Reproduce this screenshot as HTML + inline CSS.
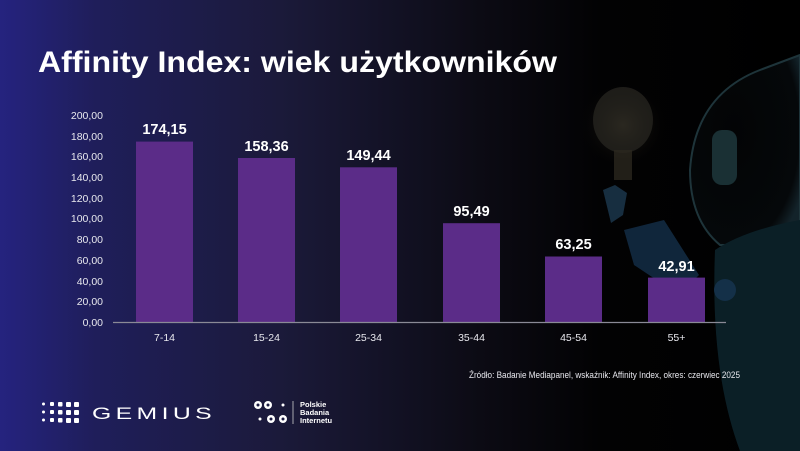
<!DOCTYPE html>
<html><head><meta charset="utf-8"><style>
html,body{margin:0;padding:0;width:800px;height:451px;overflow:hidden;background:#000}
svg{display:block}
text{font-family:"Liberation Sans",sans-serif}
</style></head><body>
<svg width="800" height="451" viewBox="0 0 800 451" xmlns="http://www.w3.org/2000/svg">
<defs>
<linearGradient id="bg" x1="0" y1="0" x2="1" y2="0">
<stop offset="0" stop-color="#25237f"/>
<stop offset="0.12" stop-color="#1f1e5a"/>
<stop offset="0.35" stop-color="#1b1a3a"/>
<stop offset="0.6" stop-color="#0c0b14"/>
<stop offset="0.75" stop-color="#020203"/>
<stop offset="1" stop-color="#000"/>
</linearGradient>
<radialGradient id="glow" cx="0.5" cy="0.5" r="0.5">
<stop offset="0" stop-color="#5a4e35" stop-opacity="0.5"/>
<stop offset="1" stop-color="#000" stop-opacity="0"/>
</radialGradient>
<radialGradient id="head" cx="0.4" cy="0.4" r="0.7">
<stop offset="0" stop-color="#030405"/>
<stop offset="0.85" stop-color="#05080a"/>
<stop offset="1" stop-color="#13232a"/>
</radialGradient>
</defs>
<rect width="800" height="451" fill="url(#bg)"/>
<!-- robot decor (dim) -->
<circle cx="623" cy="125" r="45" fill="url(#glow)"/>
<ellipse cx="623" cy="120" rx="30" ry="33" fill="#2a2822" opacity="0.7"/>
<rect x="614" y="150" width="18" height="30" fill="#2a271e" opacity="0.8"/>
<path d="M603 190 l12 -5 l12 8 l-4 22 l-12 8 z" fill="#1d3a50" opacity="0.8"/>
<path d="M624 230 l40 -10 l35 55 l-20 20 l-45 -30 z" fill="#14304a" opacity="0.8"/>
<path d="M760 70 q-65 25 -70 100 q0 50 30 75 l80 0 l0 -190 z" fill="url(#head)" stroke="#1e343a" stroke-width="2"/>
<rect x="712" y="130" width="25" height="55" rx="10" fill="#1a3034"/>
<path d="M715 250 q30 -20 85 -30 l0 231 l-60 0 q-30 -80 -25 -201 z" fill="#0b1f26"/>
<circle cx="725" cy="290" r="11" fill="#143048"/>
<!-- title -->
<text x="38" y="72" font-size="30" font-weight="bold" fill="#fff" textLength="519" lengthAdjust="spacingAndGlyphs">Affinity Index: wiek użytkowników</text>
<!-- y labels -->
<g font-size="10.5" fill="#e8e8ee" text-anchor="end">
<text x="103" y="326">0,00</text>
<text x="103" y="305">20,00</text>
<text x="103" y="285">40,00</text>
<text x="103" y="264">60,00</text>
<text x="103" y="243">80,00</text>
<text x="103" y="222">100,00</text>
<text x="103" y="202">120,00</text>
<text x="103" y="181">140,00</text>
<text x="103" y="160">160,00</text>
<text x="103" y="140">180,00</text>
<text x="103" y="119">200,00</text>
</g>
<!-- bars -->
<g fill="#5b2c88">
<rect x="136" y="141.6" width="57" height="180.4"/>
<rect x="238" y="158" width="57" height="164"/>
<rect x="340" y="167.3" width="57" height="154.7"/>
<rect x="443" y="223.2" width="57" height="98.8"/>
<rect x="545" y="256.5" width="57" height="65.5"/>
<rect x="648" y="277.6" width="57" height="44.4"/>
</g>
<line x1="113" y1="322.5" x2="726" y2="322.5" stroke="#8a8a96" stroke-width="1.2"/>
<g font-size="14.5" font-weight="bold" fill="#fff" text-anchor="middle">
<text x="164.5" y="134">174,15</text>
<text x="266.5" y="151">158,36</text>
<text x="368.5" y="160">149,44</text>
<text x="471.5" y="216">95,49</text>
<text x="573.5" y="249">63,25</text>
<text x="676.5" y="271">42,91</text>
</g>
<g font-size="10.5" fill="#e8e8ee" text-anchor="middle">
<text x="164.5" y="341">7-14</text>
<text x="266.5" y="341">15-24</text>
<text x="368.5" y="341">25-34</text>
<text x="471.5" y="341">35-44</text>
<text x="573.5" y="341">45-54</text>
<text x="676.5" y="341">55+</text>
</g>
<text x="469" y="378" font-size="9" fill="#e8e8ee" textLength="271" lengthAdjust="spacingAndGlyphs">Źródło: Badanie Mediapanel, wskaźnik: Affinity Index, okres: czerwiec 2025</text>
<!-- gemius logo -->
<g fill="#fff">
<circle cx="43.5" cy="404" r="1.5"/><circle cx="43.5" cy="412" r="1.5"/><circle cx="43.5" cy="420" r="1.5"/>
<rect x="50" y="402" width="4" height="4" rx="1"/><rect x="50" y="410" width="4" height="4" rx="1"/><rect x="50" y="418" width="4" height="4" rx="1"/>
<rect x="58" y="402" width="4.5" height="4.5" rx="1"/><rect x="58" y="410" width="4.5" height="4.5" rx="1"/><rect x="58" y="418" width="4.5" height="4.5" rx="1"/>
<rect x="66" y="402" width="5" height="5" rx="1"/><rect x="66" y="410" width="5" height="5" rx="1"/><rect x="66" y="418" width="5" height="5" rx="1"/>
<rect x="74" y="402" width="5" height="5" rx="1"/><rect x="74" y="410" width="5" height="5" rx="1"/><rect x="74" y="418" width="5" height="5" rx="1"/>
</g>
<text x="92" y="419" font-size="17" fill="#fff" letter-spacing="3" textLength="124" lengthAdjust="spacingAndGlyphs">GEMIUS</text>
<!-- PBI logo -->
<g fill="#fff">
<circle cx="258" cy="405" r="4"/><circle cx="268" cy="405" r="4"/><circle cx="283" cy="405" r="1.5"/>
<circle cx="260" cy="419" r="1.5"/><circle cx="271" cy="419" r="4"/><circle cx="283" cy="419" r="4"/>
<circle cx="258" cy="405" r="1.5" fill="#1a1a40"/><circle cx="268" cy="405" r="1.5" fill="#1a1a40"/>
<circle cx="271" cy="419" r="1.5" fill="#1a1a40"/><circle cx="283" cy="419" r="1.5" fill="#1a1a40"/>
</g>
<line x1="293" y1="401" x2="293" y2="424" stroke="#ccc" stroke-width="0.8"/>
<g font-size="7.5" font-weight="bold" fill="#fff">
<text x="300" y="407">Polskie</text>
<text x="300" y="415">Badania</text>
<text x="300" y="423">Internetu</text>
</g>
</svg>
</body></html>
